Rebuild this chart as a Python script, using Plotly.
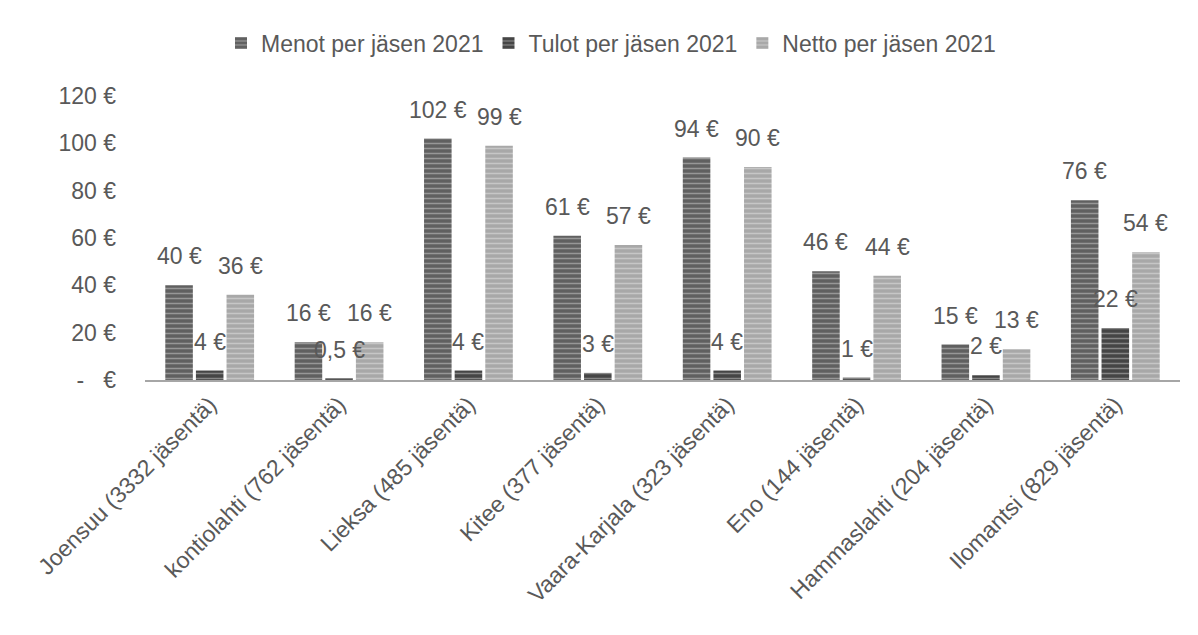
import plotly.graph_objects as go

categories = ["Joensuu (3332 jäsentä)", "kontiolahti (762 jäsentä)", "Lieksa (485 jäsentä)",
              "Kitee (377 jäsentä)", "Vaara-Karjala (323 jäsentä)", "Eno (144 jäsentä)",
              "Hammaslahti (204 jäsentä)", "Ilomantsi (829 jäsentä)"]
menot = [40, 16, 102, 61, 94, 46, 15, 76]
tulot = [4, 0.5, 4, 3, 4, 1, 2, 22]
netto = [36, 16, 99, 57, 90, 44, 13, 54]
tick_vals = [0, 20, 40, 60, 80, 100, 120]
tick_text = ["-   €", "20 €", "40 €", "60 €", "80 €", "100 €", "120 €"]

def fmt(v):
    return (f"{v:g}".replace(".", ",")) + " €"

series = [
    ("Menot per jäsen 2021", menot, "#606060"),
    ("Tulot per jäsen 2021", tulot, "#454545"),
    ("Netto per jäsen 2021", netto, "#a8a8a8"),
]

W, H = 1198, 635
ML, MR, MT, MB = 137, 26, 88, 263
BARGAP, GROUPGAP = 0.29, 0.1
FONT = "Liberation Sans, Arial"
TXT = "#595959"
FS = 23

fig = go.Figure()
for name, vals, col in series:
    fig.add_trace(go.Bar(
        name=name, x=categories, y=vals,
        marker=dict(color=col, line=dict(width=0),
                    pattern=dict(shape="-", fgcolor="rgba(255,255,255,0.7)", bgcolor=col,
                                 size=5, solidity=0.3, fillmode="overlay")),
    ))

# value labels placed over each bar
cat_px = (W - ML - MR) / len(categories)
slot = cat_px * (1 - BARGAP) / len(series)
for si, (name, vals, col) in enumerate(series):
    for cat, v in zip(categories, vals):
        fig.add_annotation(x=cat, y=v, text=fmt(v), showarrow=False,
                           xshift=(si - 1) * slot, yshift=14, yanchor="bottom",
                           font=dict(size=FS, color=TXT, family=FONT))

fig.update_layout(
    width=W, height=H,
    paper_bgcolor="white", plot_bgcolor="white",
    barmode="group", bargap=BARGAP, bargroupgap=GROUPGAP,
    margin=dict(l=ML, r=MR, t=MT, b=MB, autoexpand=False),
    font=dict(family=FONT, size=FS, color=TXT),
    legend=dict(orientation="h", xref="container", x=603 / W, xanchor="center",
                yref="container", y=1 - 35 / H,
                yanchor="middle", font=dict(size=FS, color=TXT), itemwidth=30,
                traceorder="normal"),
    xaxis=dict(tickangle=-45, showline=True, linecolor="#a6a6a6", linewidth=2,
               ticks="", showgrid=False, automargin=False,
               tickfont=dict(size=FS, color=TXT)),
    yaxis=dict(range=[0, 120], tickvals=tick_vals, ticktext=tick_text, showgrid=False,
               zeroline=False, showline=False, ticks="", ticklabelstandoff=28,
               automargin=False, tickfont=dict(size=FS, color=TXT)),
)

fig.write_html("out.html")
